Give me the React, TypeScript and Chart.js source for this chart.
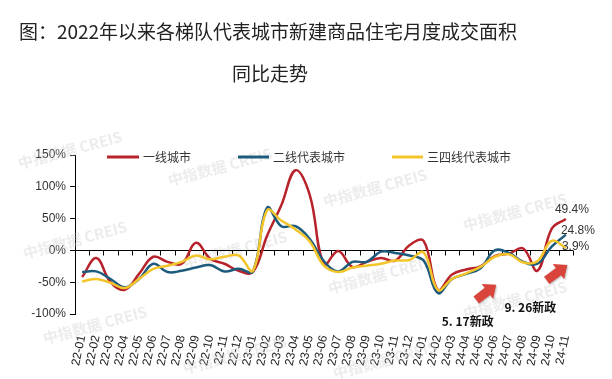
import React, { useEffect, useRef } from "react";
import { Chart, registerables } from "chart.js";
Chart.register(...registerables);

const categories = [
  "22-01","22-02","22-03","22-04","22-05","22-06","22-07","22-08","22-09","22-10","22-11","22-12",
  "23-01","23-02","23-03","23-04","23-05","23-06","23-07","23-08","23-09","23-10","23-11","23-12",
  "24-01","24-02","24-03","24-04","24-05","24-06","24-07","24-08","24-09","24-10","24-11",
];
const tier1 = [
  -42, -12, -50, -62, -37, -10, -18, -21, 12, -13, -21, -32,
  -34, 23, 71, 126, 87, -22, -1, -26, -18, -12, -16, 8,
  15, -62, -38, -30, -25, -9, -5, 3, -32, 34, 49.4,
];
const tier2 = [
  -34, -33, -45, -58, -45, -21, -34, -32, -27, -23, -33, -29,
  -33, 67, 38, 38, 18, -17, -33, -18, -18, -2, -4, -8,
  -16, -67, -45, -37, -28, 0, -4, -18, -21, 6, 24.8,
];
const tier34 = [
  -49, -45, -51, -59, -45, -29, -24, -18, -8, -14, -10, -8,
  -32, 63, 47, 33, 14, -24, -34, -27, -24, -21, -16, -15,
  -3, -62, -45, -36, -26, -10, -6, -19, -17, 15, 3.9,
];
const seriesNames = ["一线城市", "二线代表城市", "三四线代表城市"];
const seriesColors = ["#B8222A", "#1D5B7C", "#F3C52A"];
const endLabels = ["49.4%", "24.8%", "3.9%"];
const yMin = -100;
const yMax = 150;
const yStep = 50;
const titleLines = ["图：2022年以来各梯队代表城市新建商品住宅月度成交面积", "同比走势"];
const policyNotes = ["5. 17新政", "9. 26新政"];
// annotation anchors in data space: [categoryIndex, value]
const policyNotePos = [[27.1, -111], [31.5, -89]];
const arrowPos = [
  [[27.7, -78], [29.1, -54]],
  [[32.65, -47], [34.1, -23]],
];
const watermark = "中指数据 CREIS";
const watermarkPos = [
  [70, 150], [220, 167], [375, 188], [515, 212],
  [75, 240], [235, 250], [380, 275], [515, 300],
  [95, 325], [235, 355], [385, 360],
];

const CJK = '"Noto Sans CJK SC", "Liberation Sans", sans-serif';
const LAT = '"Liberation Sans", Arial, sans-serif';

function drawArrow(ctx: CanvasRenderingContext2D, x1: number, y1: number, x2: number, y2: number) {
  const ang = Math.atan2(y2 - y1, x2 - x1);
  const len = Math.hypot(x2 - x1, y2 - y1);
  const sw = 4.5, hw = 9.5, hl = 11;
  ctx.save();
  ctx.translate(x1, y1);
  ctx.rotate(ang);
  ctx.beginPath();
  ctx.moveTo(0, -sw);
  ctx.lineTo(len - hl, -sw);
  ctx.lineTo(len - hl, -hw);
  ctx.lineTo(len, 0);
  ctx.lineTo(len - hl, hw);
  ctx.lineTo(len - hl, sw);
  ctx.lineTo(0, sw);
  ctx.closePath();
  ctx.shadowColor = "rgba(0,0,0,0.25)";
  ctx.shadowBlur = 2;
  ctx.shadowOffsetX = 1;
  ctx.shadowOffsetY = 1;
  ctx.fillStyle = "#D9443B";
  ctx.fill();
  ctx.restore();
}

const decor = {
  id: "decor",
  beforeDraw(chart: any) {
    const ctx = chart.ctx as CanvasRenderingContext2D;
    ctx.save();
    ctx.fillStyle = "#fff";
    ctx.fillRect(0, 0, chart.width, chart.height);
    ctx.restore();
  },
  beforeDatasetsDraw(chart: any) {
    const ctx = chart.ctx as CanvasRenderingContext2D;
    const { left, right } = chart.chartArea;
    const y = chart.scales.y;
    ctx.save();
    ctx.font = `bold 15px ${CJK}`;
    ctx.fillStyle = "rgba(200,200,200,0.35)";
    ctx.textAlign = "center";
    ctx.textBaseline = "middle";
    for (const [wx, wy] of watermarkPos) {
      ctx.save();
      ctx.translate(wx, wy);
      ctx.rotate(-15 * Math.PI / 180);
      ctx.fillText(watermark, 0, 0);
      ctx.restore();
    }
    ctx.restore();
    const y0 = Math.round(y.getPixelForValue(0)) + 0.5;
    ctx.save();
    ctx.strokeStyle = "#000";
    ctx.lineWidth = 1;
    ctx.beginPath();
    ctx.moveTo(left, y0);
    ctx.lineTo(right, y0);
    const n = categories.length;
    const w = (right - left) / n;
    for (let k = 1; k <= n; k++) {
      const xx = Math.round(left + k * w) + 0.5;
      ctx.moveTo(xx, y0);
      ctx.lineTo(xx, y0 + 5);
    }
    ctx.stroke();
    ctx.restore();
  },
  afterDraw(chart: any) {
    const ctx = chart.ctx as CanvasRenderingContext2D;
    const xs = chart.scales.x;
    const ys = chart.scales.y;
    ctx.save();
    ctx.fillStyle = "#222";
    ctx.font = `19px ${CJK}`;
    ctx.textAlign = "center";
    ctx.textBaseline = "middle";
    ctx.fillText(titleLines[0], 268, 32);
    ctx.fillText(titleLines[1], 270, 74);
    ctx.restore();
    const legendX = [[107, 139, 143], [238, 269, 273], [392, 423, 427]];
    const legendY = 157;
    ctx.save();
    ctx.font = `12px ${CJK}`;
    ctx.textBaseline = "middle";
    ctx.textAlign = "left";
    seriesNames.forEach((name, i) => {
      const [a, b, t] = legendX[i];
      ctx.strokeStyle = seriesColors[i];
      ctx.lineWidth = 3;
      ctx.beginPath();
      ctx.moveTo(a, legendY);
      ctx.lineTo(b, legendY);
      ctx.stroke();
      ctx.fillStyle = "#333";
      ctx.fillText(name, t, legendY);
    });
    ctx.restore();
    const series = [tier1, tier2, tier34];
    const offs = [[-11, -9], [-5, -4], [-4, -1]];
    ctx.save();
    ctx.font = `12px ${LAT}`;
    ctx.fillStyle = "#333";
    ctx.textAlign = "left";
    ctx.textBaseline = "middle";
    series.forEach((s, i) => {
      const last = s.length - 1;
      const px = xs.getPixelForValue(last);
      const py = ys.getPixelForValue(s[last]);
      ctx.fillText(endLabels[i], px + offs[i][0], py + offs[i][1]);
    });
    ctx.restore();
    const catW = (chart.chartArea.right - chart.chartArea.left) / categories.length;
    const px = (idx: number) => chart.chartArea.left + (idx + 0.5) * catW;
    for (const [[a, b], [c, d]] of arrowPos) {
      drawArrow(ctx, px(a), ys.getPixelForValue(b), px(c), ys.getPixelForValue(d));
    }
    ctx.save();
    ctx.font = `bold 12px ${CJK}`;
    ctx.fillStyle = "#111";
    ctx.textAlign = "center";
    ctx.textBaseline = "middle";
    policyNotes.forEach((t, i) => {
      const [a, b] = policyNotePos[i];
      ctx.fillText(t, px(a), ys.getPixelForValue(b));
    });
    ctx.restore();
  },
};

export default function App() {
  const ref = useRef<HTMLCanvasElement | null>(null);
  useEffect(() => {
    if (!ref.current) return;
    const mk = (data: number[], i: number, order: number) => ({
      label: seriesNames[i],
      data,
      borderColor: seriesColors[i],
      backgroundColor: seriesColors[i],
      borderWidth: 2.5,
      pointRadius: 0,
      tension: 0.4,
      fill: false,
      order,
    });
    const chart = new Chart(ref.current, {
      type: "line",
      data: {
        labels: categories,
        datasets: [mk(tier1, 0, 2), mk(tier2, 1, 1), mk(tier34, 2, 0)],
      },
      options: {
        responsive: false,
        animation: false,
        devicePixelRatio: 1,
        layout: { padding: { left: 0, top: 155, right: 39, bottom: 0 } },
        plugins: { legend: { display: false }, tooltip: { enabled: false }, title: { display: false } },
        scales: {
          x: {
            offset: true,
            grid: { display: false, drawTicks: false },
            border: { display: false },
            ticks: {
              autoSkip: false,
              minRotation: 78,
              maxRotation: 78,
              padding: 20,
              color: "#222",
              font: { size: 12, family: LAT },
            },
            afterFit: (s: any) => { s.height = 65; },
          },
          y: {
            min: yMin,
            max: yMax,
            ticks: {
              stepSize: yStep,
              padding: 4,
              color: "#333",
              font: { size: 12, family: LAT },
              callback: (v: any) => `${v}%`,
            },
            grid: { drawOnChartArea: false, drawTicks: true, tickLength: 5, color: "#000" },
            border: { display: true, color: "#000", width: 1 },
            afterFit: (s: any) => { s.width = 75; },
          },
        },
      },
      plugins: [decor],
    });
    return () => chart.destroy();
  }, []);
  return (
    <div style={{ position: "fixed", left: 0, top: 0, width: 612, height: 379, background: "#fff" }}>
      <canvas ref={ref} width={612} height={379} style={{ width: 612, height: 379, display: "block" }} />
    </div>
  );
}
